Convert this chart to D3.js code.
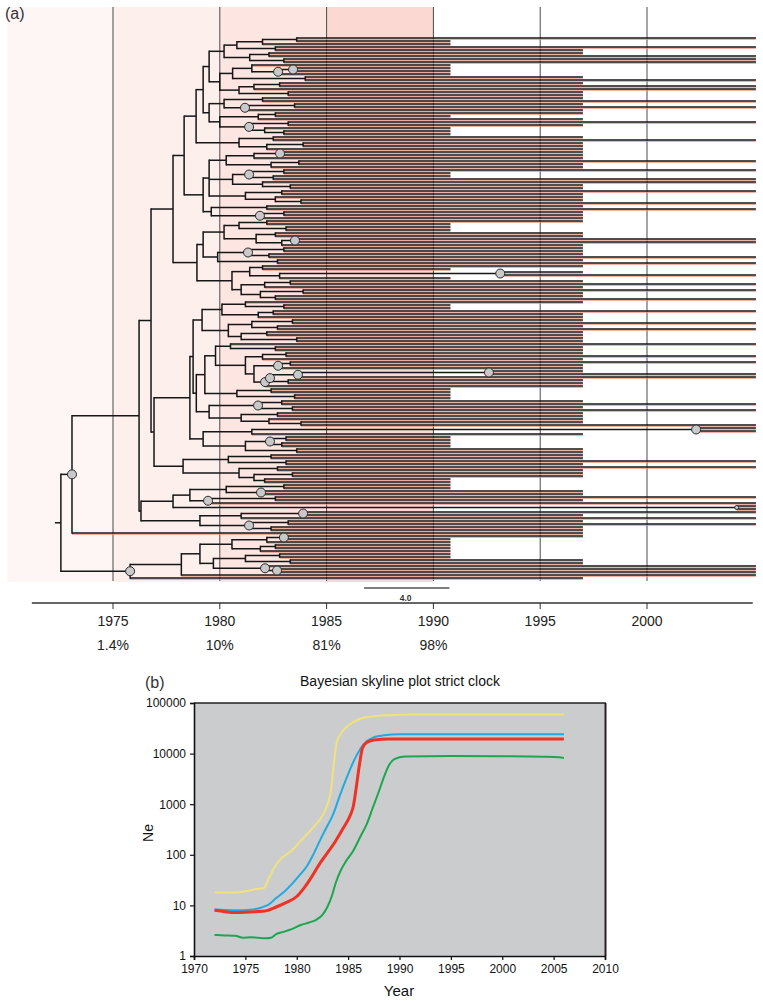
<!DOCTYPE html>
<html><head><meta charset="utf-8">
<script src="https://cdn.jsdelivr.net/npm/d3@7/dist/d3.min.js"></script>
<style>body{margin:0;background:#fff} svg{display:block} text{font-family:"Liberation Sans",Arial,Helvetica,sans-serif}</style>
</head><body><svg id="c" width="763" height="1001"></svg>
<script>
// ---------- Panel (a) data ----------
const gridYears = [1975, 1980, 1985, 1990, 1995, 2000];
const pctYears = [1975, 1980, 1985, 1990];
const pctLabels = ["1.4%", "10%", "81%", "98%"];
const shadeBands = [[1970.05, 1975], [1975, 1980], [1980, 1985], [1985, 1990]];
const shadeColors = ["#fef6f5", "#fdefec", "#fde5e1", "#fbd8d1"];
const tipEndYears = {a: 1990.8, b: 1997.0, c: 2005.1};
const rootStemYear = 1972.28;
const scaleBar = [1986.75, 1990.75];
const scaleBarLabel = "4.0";
// tree (Newick-like): tips a/b/c = sampling year, node label = date (1900+), * = node marker, + = small marker
const cK1a = "((((c,a)83.6,a)82.0,(c,b)82.6)80.8,((b,c)82.3,(c,c)83.0)81.4)80.2";
const cK1b = "(((a,((a,a)83.43*,a)82.73*)81.5,(b,c)84.0)80.6,(((b,c)82.8,c)81.6,(b,b)83.2)80.9)80.0";
const cK2 = "(((b,c)82.0,((b,c)83.5,b)81.18*)80.2,(((b,a)82.6,b)81.8,((c,b)83.2,(a,(a,a)83.0)82.1)81.37*)80.0)79.5";
const cL = "((b,c)82.5,((b,b)83.9,b)82.2)80.9";
const cJ1 = "((((b,b)82.82*,b)81.6,((c,b)83.7,b)82.4)80.3,(((c,a)83.0,(a,c)82.5)81.37*,(c,(b,b)83.3)82.0)80.6,((c,b)82.9,(b,(b,c)83.8)82.6)81.2)79.5";
const cJ2 = "((b,c)82.2,((b,b)83.0,b)81.88*)79.6";
const cH1 = "((((b,a)82.2,(a,a)83.1)80.9,((b,b)82.6,((c,c)83.52*,b)82.9)81.7)80.2,(((b,b)83.0,(b,c)82.3)81.32*,(b,c)82.7)79.9)79.22";
const cH2 = "(((b,a)82.0,((b,c)93.13*,a)82.8)81.4,(((b,c)83.3,b)82.1,((c,b)83.9,(b,c)82.6)81.9)81.0)80.57";
const cV1a = "(((b,(a,a)83.0)81.2,((c,b)82.5,b)81.8)80.1,(((b,c)83.4,(b,c)82.7)81.5,((b,b)82.2,(b,b)83.6)81.0)80.4)79.17";
const cV1b1a = "(c,(b,b)82.6)80.5";
const cV1b1b = "(((b,c)83.1,b)82.0,(((c,b)83.3,b)82.73*,((((b,c)92.6*,c)83.66*,(b,b)83.2)82.35*,b)82.12*)81.6)81.2";
const cV1b1c = "((a,a)82.4,(a,a)83.5)80.8";
const cV1b2 = "(((b,c)82.9,(b,c)83.4)81.79*,((b,b)82.7,(b,(b,c)83.8)82.3)81.0)79.5";
const cV2 = "(((c,c)102.3*,b)81.5,(((a,a)83.1,(a,a)82.9)82.35*,(b,b)83.6)81.2)79.22";
const cF2 = "(((b,b)82.4,(c,b)83.1)80.4,((c,b)82.7,((b,b)83.4,(a,a)82.1)81.6)80.9)78.28";
const cP = "((((a,a)83.0,(b,b)81.93*)80.3,((c,b)82.6,c)79.45*)78.6,(c,c)104.2+)77.81";
const cQ = "(((c,b)83.9*,c)81.0,((b,c)83.2,(b,b)82.4)81.37*)79.07";
const cS1a = "(((b,a)83.0*,a)82.2,((a,a)82.6,a)81.9)80.57";
const cS1b = "(((a,a)82.8,(b,b)83.3)81.2,(c,(c,c)82.68*)82.12*)79.7";

const cK = `((${cK1a},${cK1b})79.5,${cK2})79.22`;
const cI = `(${cK},${cL})78.89`;
const cG = `(${cI},(${cJ1},${cJ2})79.22)78.33`;
const cE = `(${cG},(${cH1},${cH2})78.93)77.81`;
const cV1b1 = `((${cV1b1a},${cV1b1b})79.8,${cV1b1c})79.3`;
const cV = `((${cV1a},(${cV1b1},${cV1b2})78.9)78.75,${cV2})78.6`;
const cF = `(${cV},${cF2})76.92`;
const cB = `((${cE},${cF})76.78,(${cP},${cQ})76.31)76.22`;
const cA = `(${cB},b)73.08*`;
const cR2 = `(((${cS1a},${cS1b})79.07,c)78.2,b)75.8*`;
const treeNewick = `(${cA},${cR2})72.56`;

// ---------- Panel (b) data ----------
const upperYears = [1972,1974,1975,1976,1976.8,1977.3,1977.8,1978.5,1979.5,1980.5,1981.5,1982.5,1983.0,1983.3,1983.6,1983.9,1984.3,1984.8,1985.5,1986.3,1987.5,1989,1991,2006];
const upperNe    = [18,18,19,21,22,35,55,85,120,200,330,600,1000,1700,6000,17000,25000,33000,42000,50000,55000,57500,59000,59000];
const meanYears  = [1972,1974,1975.5,1976.5,1977.3,1978,1978.7,1979.5,1980.3,1981,1981.6,1982.3,1983,1983.5,1984.2,1984.9,1985.6,1986.2,1986.8,1987.5,1988.5,1990,2006];
const meanNe     = [8.3,8.0,8.2,9,10.5,14,18,26,40,60,100,200,380,600,1500,3500,7500,12500,17500,21000,23000,24000,24000];
const medianYears= [1972,1973,1974,1975,1976,1977,1978,1979,1980,1980.7,1981.5,1982.3,1983,1983.8,1984.5,1985.2,1985.5,1985.8,1986.1,1986.4,1986.8,1987.5,1989,2006];
const medianNe   = [8,7.5,7.2,7.3,7.5,7.8,9.3,11.5,15,22,38,70,110,190,330,600,900,2200,6000,13000,16500,18500,19500,19500];
const lowerYears = [1972,1973,1974,1974.8,1975.5,1976.2,1977,1977.5,1978,1978.7,1979.5,1980.4,1981.2,1981.9,1982.5,1983,1983.4,1983.8,1984.3,1984.8,1985.5,1986.2,1986.8,1987.4,1988,1988.5,1989,1989.5,1990.5,1995,2000,2004,2005.5,2006];
const lowerNe    = [2.6,2.55,2.5,2.3,2.35,2.3,2.25,2.3,2.7,3.0,3.4,4.1,4.6,5.2,6.5,9.5,15,28,50,75,120,230,400,850,1800,3500,6000,7800,8800,9000,8900,8700,8500,8200];
const xTicksB = [1970,1975,1980,1985,1990,1995,2000,2005,2010];
const yTicksB = [1,10,100,1000,10000,100000];
const seriesB = [
  {years: upperYears, ne: upperNe, color: "#f2e27c", w: 2},
  {years: meanYears, ne: meanNe, color: "#22a9e1", w: 2},
  {years: medianYears, ne: medianNe, color: "#ec3325", w: 3},
  {years: lowerYears, ne: lowerNe, color: "#1ca650", w: 2}
];

// ---------- parse tree ----------
function parseNewick(s) {
  let i = 0;
  function node() {
    const n = {};
    if (s[i] === "(") {
      i++; n.children = [node()];
      while (s[i] === ",") { i++; n.children.push(node()); }
      i++;
      const m = /^[0-9.]+/.exec(s.slice(i));
      n.date = 1900 + parseFloat(m[0]); i += m[0].length;
      if (s[i] === "*") { n.mark = "big"; i++; }
      else if (s[i] === "+") { n.mark = "small"; i++; }
    } else { n.tip = s[i]; n.date = tipEndYears[s[i]]; i++; }
    return n;
  }
  return node();
}

const svg = d3.select("#c");
svg.append("rect").attr("width", 763).attr("height", 1001).attr("fill", "#fff");

// ---------- Panel (a) ----------
const xA = d3.scaleLinear().domain([1975, 2000]).range([113, 647]);
const topA = 7, botA = 581;
const root = d3.hierarchy(parseNewick(treeNewick));
const leaves = root.leaves();
const yA = d3.scaleLinear().domain([0, leaves.length - 1]).range([38, 578]);
leaves.forEach((l, k) => l.y = yA(k));
root.eachAfter(n => {
  if (n.children) n.y = (n.children[0].y + n.children[n.children.length - 1].y) / 2;
  n.x = xA(n.data.date);
});

const gA = svg.append("g");
gA.selectAll("rect.shade").data(shadeBands).join("rect")
  .attr("x", d => xA(d[0])).attr("y", topA)
  .attr("width", d => xA(d[1]) - xA(d[0])).attr("height", botA - topA + 1)
  .attr("fill", (d, k) => shadeColors[k]);
gA.selectAll("line.grid").data(gridYears).join("line")
  .attr("x1", d => xA(d)).attr("x2", d => xA(d)).attr("y1", topA).attr("y2", botA)
  .attr("stroke", "#4a4a4a").attr("stroke-width", 1);

const links = root.links();
// salmon underline for terminal branches
gA.selectAll("line.sal").data(links.filter(l => !l.target.children)).join("line")
  .attr("x1", l => l.source.x).attr("x2", l => l.target.x)
  .attr("y1", l => l.target.y + 1.3).attr("y2", l => l.target.y + 1.3)
  .attr("stroke", "#e59a8a").attr("stroke-width", 1.1);
gA.selectAll("line.h").data(links).join("line")
  .attr("x1", l => l.source.x).attr("x2", l => l.target.x)
  .attr("y1", l => l.target.y).attr("y2", l => l.target.y)
  .attr("stroke", "#161616").attr("stroke-width", 1.5);
gA.selectAll("line.v").data(root.descendants().filter(n => n.children)).join("line")
  .attr("x1", n => n.x).attr("x2", n => n.x)
  .attr("y1", n => n.children[0].y - 0.75).attr("y2", n => n.children[n.children.length - 1].y + 0.75)
  .attr("stroke", "#161616").attr("stroke-width", 1.5);
gA.append("line").attr("x1", xA(rootStemYear)).attr("x2", root.x)
  .attr("y1", root.y).attr("y2", root.y).attr("stroke", "#161616").attr("stroke-width", 1.5);
gA.selectAll("circle.m").data(root.descendants().filter(n => n.data.mark)).join("circle")
  .attr("cx", n => n.x).attr("cy", n => n.y)
  .attr("r", n => n.data.mark === "big" ? 4.5 : 2)
  .attr("fill", "#c9c9c9").attr("stroke", "#2a2a2a").attr("stroke-width", 1);

// scale bar
gA.append("line").attr("x1", xA(scaleBar[0])).attr("x2", xA(scaleBar[1]))
  .attr("y1", 588).attr("y2", 588).attr("stroke", "#555").attr("stroke-width", 1.5);
gA.append("text").attr("x", (xA(scaleBar[0]) + xA(scaleBar[1])) / 2 - 1).attr("y", 601)
  .attr("text-anchor", "middle").attr("font-size", 8.5).attr("font-weight", "bold").attr("fill", "#333").text(scaleBarLabel);

// time axis
const axA = gA.append("g").attr("transform", "translate(0,603)");
axA.append("line").attr("x1", xA(1971.2)).attr("x2", xA(2004.95)).attr("stroke", "#333").attr("stroke-width", 1.3);
axA.selectAll("line.t").data(gridYears).join("line")
  .attr("x1", d => xA(d)).attr("x2", d => xA(d)).attr("y1", 0).attr("y2", 6)
  .attr("stroke", "#333").attr("stroke-width", 1);
axA.selectAll("text.t").data(gridYears).join("text")
  .attr("x", d => xA(d)).attr("y", 23).attr("text-anchor", "middle")
  .attr("font-size", 14).attr("fill", "#222").text(d => d);
axA.selectAll("text.p").data(pctYears).join("text")
  .attr("x", d => xA(d)).attr("y", 47).attr("text-anchor", "middle")
  .attr("font-size", 14).attr("fill", "#222").text((d, k) => pctLabels[k]);
svg.append("text").attr("x", 5).attr("y", 19).attr("font-size", 16).attr("fill", "#333").text("(a)");

// ---------- Panel (b) ----------
const xB = d3.scaleLinear().domain([1970, 2010]).range([194, 605]);
const yB = d3.scaleLog().domain([1, 100000]).range([956, 703]);
const gB = svg.append("g");
gB.append("rect").attr("x", 194).attr("y", 703).attr("width", 411).attr("height", 253).attr("fill", "#cbcccd");
const line = d3.line().x(d => xB(d[0])).y(d => yB(d[1])).curve(d3.curveMonotoneX);
seriesB.forEach(s => {
  gB.append("path").datum(s.years.map((y, k) => [y, s.ne[k]]))
    .attr("d", line).attr("fill", "none").attr("stroke", s.color).attr("stroke-width", s.w)
    .attr("stroke-linejoin", "round");
});
// frame
gB.append("line").attr("x1", 194).attr("x2", 606).attr("y1", 703).attr("y2", 703).attr("stroke", "#222").attr("stroke-width", 1.5);
gB.append("line").attr("x1", 605.5).attr("x2", 605.5).attr("y1", 703).attr("y2", 956).attr("stroke", "#2a2020").attr("stroke-width", 2);
const axL = gB.append("g").attr("transform", "translate(194,0)")
  .call(d3.axisLeft(yB).tickValues(yTicksB).tickFormat(d3.format("d")).tickSize(4).tickPadding(4));
const axB = gB.append("g").attr("transform", "translate(0,956)")
  .call(d3.axisBottom(xB).tickValues(xTicksB).tickFormat(d3.format("d")).tickSize(4).tickPadding(4));
[axL, axB].forEach(a => {
  a.select(".domain").attr("stroke", "#111").attr("stroke-width", 1.6);
  a.selectAll(".tick line").attr("stroke", "#111").attr("stroke-width", 1.2);
  a.selectAll(".tick text").attr("font-size", 12).attr("fill", "#111")
    .attr("font-family", '"Liberation Sans",Arial,sans-serif');
});
gB.append("text").attr("x", 400).attr("y", 686).attr("text-anchor", "middle").attr("font-size", 14).attr("fill", "#111")
  .text("Bayesian skyline plot strict clock");
gB.append("text").attr("x", 145).attr("y", 688).attr("font-size", 16).attr("fill", "#333").text("(b)");
gB.append("text").attr("transform", "translate(153,833) rotate(-90)").attr("text-anchor", "middle")
  .attr("font-size", 14).attr("fill", "#111").text("Ne");
gB.append("text").attr("x", 399).attr("y", 996).attr("text-anchor", "middle").attr("font-size", 15).attr("fill", "#111").text("Year");
</script></body></html>
